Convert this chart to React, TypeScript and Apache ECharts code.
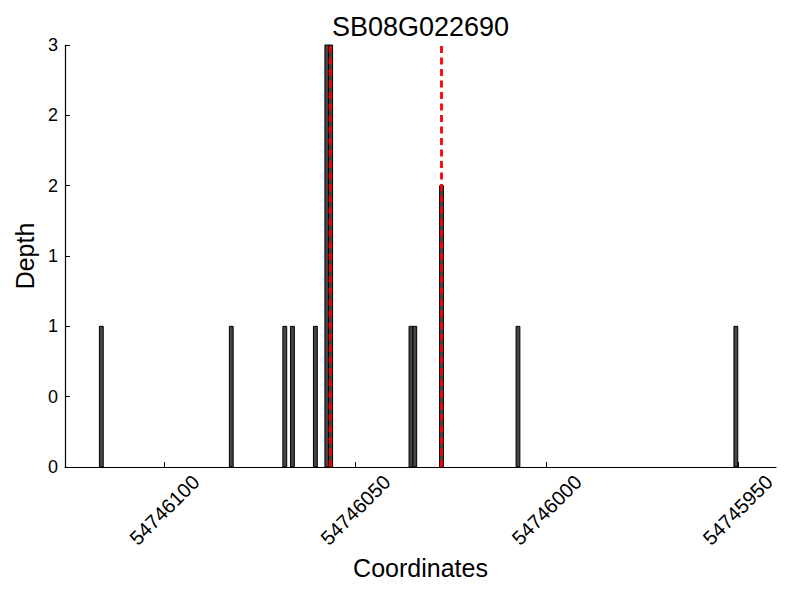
import React, { useEffect, useRef } from "react";
import * as echarts from "echarts";

const TITLE = "SB08G022690";
const X_NAME = "Coordinates";
const Y_NAME = "Depth";

// bar left edges (each bar spans one coordinate unit) and depths
const POSITIONS = [
  54746116, 54746082, 54746068, 54746066, 54746060, 54746057, 54746056,
  54746035, 54746034, 54746027, 54746007, 54745950,
];
const DEPTHS = [1, 1, 1, 1, 1, 3, 3, 1, 1, 2, 1, 1];

// red dashed markers
const MARKERS = [54746056.5, 54746027.5];

const X_TICKS = [54746100, 54746050, 54746000, 54745950];
const Y_TICKS = [0, 0.5, 1, 1.5, 2, 2.5, 3];
const Y_TICK_LABELS = ["0", "0", "1", "1", "2", "2", "3"];

const X_MIN = 54745940;
const X_MAX = 54746126;

const FONT = "'Liberation Sans', Arial, Helvetica, sans-serif";

export default function App() {
  const ref = useRef<HTMLDivElement>(null);

  useEffect(() => {
    if (!ref.current) return;
    const chart = echarts.init(ref.current, undefined, { renderer: "svg" });
    const data = POSITIONS.map((p, i) => [p, DEPTHS[i]]);

    chart.setOption({
      animation: false,
      backgroundColor: "#ffffff",
      textStyle: { fontFamily: FONT },
      graphic: [
        {
          type: "text",
          x: 420.5,
          y: 27,
          style: {
            text: TITLE,
            fontSize: 27,
            fontFamily: FONT,
            fill: "#000",
            textAlign: "center",
            textVerticalAlign: "middle",
          },
        },
      ],
      grid: { left: 65, right: 24, top: 45, bottom: 133, containLabel: false },
      xAxis: {
        type: "value",
        inverse: true,
        min: X_MIN,
        max: X_MAX,
        name: X_NAME,
        nameLocation: "middle",
        nameGap: 84,
        nameTextStyle: { fontSize: 25, color: "#000", fontFamily: FONT },
        axisLine: { show: true, onZero: false, lineStyle: { color: "#000", width: 1.2 } },
        axisTick: {
          show: true,
          inside: true,
          length: 5,
          customValues: X_TICKS,
          lineStyle: { color: "#000", width: 1 },
        },
        axisLabel: {
          customValues: X_TICKS,
          rotate: 45,
          align: "center",
          verticalAlign: "middle",
          margin: 43,
          fontSize: 20,
          color: "#000",
          fontFamily: FONT,
          formatter: (v: number) => String(v),
        },
        splitLine: { show: false },
      },
      yAxis: {
        type: "value",
        min: 0,
        max: 3,
        interval: 0.5,
        name: Y_NAME,
        nameLocation: "middle",
        nameGap: 27,
        nameTextStyle: { fontSize: 25, color: "#000", fontFamily: FONT },
        axisLine: { show: true, lineStyle: { color: "#000", width: 1.2 } },
        axisTick: { show: true, inside: true, length: 5, lineStyle: { color: "#000", width: 1 } },
        axisLabel: {
          margin: 7,
          fontSize: 18,
          color: "#000",
          fontFamily: FONT,
          formatter: (v: number) => {
            const idx = Y_TICKS.findIndex((t) => Math.abs(t - v) < 1e-9);
            return idx >= 0 ? Y_TICK_LABELS[idx] : "";
          },
        },
        splitLine: { show: false },
      },
      series: [
        {
          type: "custom",
          data,
          encode: { x: 0, y: 1 },
          renderItem: (params: any, api: any) => {
            const x = api.value(0);
            const y = api.value(1);
            const p0 = api.coord([x, 0]);
            const p1 = api.coord([x + 1, y]);
            return {
              type: "rect",
              shape: {
                x: Math.min(p0[0], p1[0]),
                y: p1[1],
                width: Math.abs(p1[0] - p0[0]),
                height: p0[1] - p1[1],
              },
              style: { fill: "#454545", stroke: "#000", lineWidth: 1 },
            };
          },
          z: 2,
        },
        {
          type: "line",
          data: [],
          z: 5,
          markLine: {
            silent: true,
            symbol: ["none", "none"],
            label: { show: false },
            lineStyle: { color: "#ff0000", width: 2.8, type: [7, 4.5] },
            data: MARKERS.map((m) => ({ xAxis: m })),
          },
        },
      ],
    });

    return () => chart.dispose();
  }, []);

  return (
    <div
      ref={ref}
      style={{ position: "fixed", left: 0, top: 0, width: 800, height: 600 }}
    />
  );
}
